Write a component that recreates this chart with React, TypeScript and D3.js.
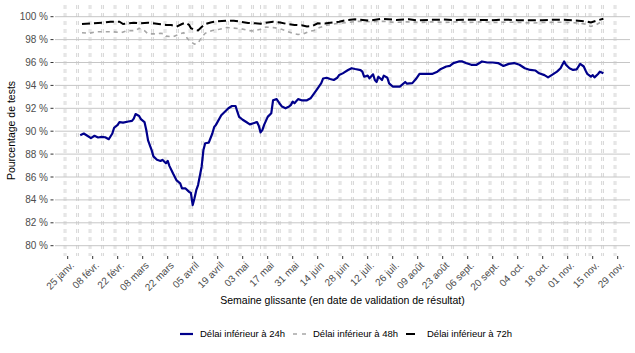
import * as d3 from "d3";

// --- data (rolling week, 2021) ---
const tickDates = ["01-25", "02-08", "02-22", "03-08", "03-22", "04-05", "04-19", "05-03", "05-17", "05-31", "06-14", "06-28", "07-12", "07-26", "08-09", "08-23", "09-06", "09-20", "10-04", "10-18", "11-01", "11-15", "11-29"];
const tickLabels = ["25 janv.", "08 févr.", "22 févr.", "08 mars", "22 mars", "05 avril", "19 avril", "03 mai", "17 mai", "31 mai", "14 juin", "28 juin", "12 juil.", "26 juil.", "09 août", "23 août", "06 sept.", "20 sept.", "04 oct.", "18 oct.", "01 nov.", "15 nov.", "29 nov."];
const yTicks = [80, 82, 84, 86, 88, 90, 92, 94, 96, 98, 100];
const holidays = ["04-05", "05-13", "05-24", "07-14", "11-01", "11-11"];

const dates24 = ["02-01", "02-03", "02-05", "02-07", "02-09", "02-11", "02-13", "02-15", "02-17", "02-19", "02-20", "02-22", "02-23", "02-25", "02-28", "03-02", "03-03", "03-04", "03-06", "03-07", "03-09", "03-10", "03-11", "03-13", "03-14", "03-16", "03-18", "03-19", "03-21", "03-22", "03-23", "03-25", "03-27", "03-29", "03-30", "04-01", "04-03", "04-04", "04-05", "04-06", "04-07", "04-08", "04-10", "04-11", "04-12", "04-14", "04-16", "04-17", "04-18", "04-21", "04-23", "04-25", "04-27", "04-29", "04-30", "05-01", "05-03", "05-05", "05-07", "05-09", "05-11", "05-12", "05-13", "05-14", "05-15", "05-17", "05-19", "05-20", "05-22", "05-24", "05-25", "05-27", "05-29", "05-30", "05-31", "06-01", "06-03", "06-05", "06-08", "06-10", "06-12", "06-14", "06-16", "06-17", "06-19", "06-21", "06-23", "06-25", "06-26", "06-28", "07-01", "07-03", "07-05", "07-08", "07-09", "07-10", "07-12", "07-13", "07-15", "07-16", "07-17", "07-18", "07-20", "07-21", "07-23", "07-24", "07-26", "07-28", "07-30", "08-02", "08-03", "08-06", "08-08", "08-10", "08-13", "08-17", "08-20", "08-22", "08-25", "08-27", "08-29", "09-01", "09-03", "09-05", "09-08", "09-11", "09-14", "09-17", "09-20", "09-23", "09-26", "09-29", "10-02", "10-05", "10-08", "10-11", "10-14", "10-16", "10-19", "10-21", "10-23", "10-26", "10-28", "10-29", "10-30", "10-31", "11-02", "11-04", "11-06", "11-08", "11-10", "11-11", "11-12", "11-14", "11-15", "11-16", "11-18", "11-19", "11-21"];
const values24 = [89.65, 89.8, 89.6, 89.4, 89.6, 89.45, 89.5, 89.47, 89.3, 89.8, 90.3, 90.55, 90.8, 90.75, 90.85, 90.9, 91.1, 91.5, 91.33, 91.05, 90.8, 90.1, 89.2, 88.35, 87.8, 87.5, 87.4, 87.5, 87.2, 87.4, 86.95, 86.3, 85.7, 85.45, 85.0, 85.0, 84.7, 84.6, 83.55, 84.15, 84.85, 85.3, 86.9, 88.35, 88.95, 89.0, 89.8, 90.35, 90.55, 91.4, 91.7, 92.0, 92.2, 92.2, 91.7, 91.25, 91.0, 90.8, 90.6, 90.7, 90.8, 90.48, 89.9, 90.1, 90.55, 91.25, 91.56, 92.7, 92.8, 92.35, 92.15, 92.0, 92.15, 92.3, 92.58, 92.44, 92.8, 92.7, 92.7, 92.87, 93.3, 93.75, 94.2, 94.6, 94.67, 94.56, 94.47, 94.67, 94.9, 95.05, 95.34, 95.5, 95.43, 95.34, 95.2, 94.76, 94.85, 94.62, 94.97, 94.47, 94.3, 94.76, 94.47, 94.85, 94.67, 94.18, 93.9, 93.9, 93.9, 94.3, 94.15, 94.2, 94.55, 95.0, 95.0, 95.0, 95.2, 95.44, 95.65, 95.7, 95.95, 96.09, 96.09, 95.95, 95.8, 95.8, 96.09, 96.0, 96.0, 95.95, 95.7, 95.88, 95.95, 95.8, 95.5, 95.35, 95.3, 95.06, 94.9, 94.7, 94.9, 95.2, 95.5, 95.8, 96.09, 95.8, 95.5, 95.35, 95.4, 95.88, 95.65, 95.3, 95.0, 94.76, 94.9, 94.7, 95.0, 95.2, 95.06];

const dates48 = ["02-02", "02-06", "02-10", "02-15", "02-19", "02-24", "02-27", "03-04", "03-06", "03-09", "03-11", "03-15", "03-18", "03-20", "03-21", "03-25", "03-29", "03-31", "04-02", "04-04", "04-06", "04-08", "04-10", "04-12", "04-16", "04-20", "04-24", "04-28", "05-02", "05-06", "05-09", "05-13", "05-16", "05-20", "05-24", "05-28", "05-31", "06-03", "06-06", "06-09", "06-12", "06-15", "06-19", "06-23", "06-27", "07-01", "07-07", "07-14", "07-21", "07-27", "08-03", "08-10", "08-17", "08-24", "08-31", "09-07", "09-14", "09-21", "09-28", "10-05", "10-12", "10-19", "10-26", "11-02", "11-07", "11-11", "11-14", "11-17", "11-21"];
const values48 = [98.6, 98.55, 98.69, 98.69, 98.69, 98.6, 98.78, 98.78, 98.99, 98.78, 98.5, 98.5, 98.55, 98.5, 98.3, 98.25, 98.5, 98.6, 98.1, 97.8, 97.6, 97.7, 98.2, 98.55, 98.8, 98.9, 99.05, 99.0, 98.95, 98.8, 98.75, 98.9, 99.1, 99.05, 98.95, 98.7, 98.55, 98.45, 98.5, 98.7, 98.8, 99.05, 99.25, 99.36, 99.45, 99.5, 99.6, 99.56, 99.6, 99.5, 99.55, 99.5, 99.55, 99.5, 99.55, 99.5, 99.55, 99.5, 99.52, 99.5, 99.45, 99.5, 99.52, 99.5, 99.45, 99.35, 99.15, 99.3, 99.65];

const dates72 = ["02-02", "02-08", "02-14", "02-18", "02-23", "02-25", "03-03", "03-07", "03-11", "03-17", "03-21", "03-24", "03-27", "03-30", "04-01", "04-03", "04-04", "04-06", "04-08", "04-10", "04-12", "04-15", "04-19", "04-24", "04-28", "05-02", "05-06", "05-10", "05-13", "05-16", "05-20", "05-24", "05-28", "06-01", "06-05", "06-08", "06-11", "06-14", "06-18", "06-21", "06-26", "06-30", "07-05", "07-13", "07-20", "07-28", "08-04", "08-09", "08-16", "08-23", "08-30", "09-06", "09-13", "09-20", "09-27", "10-04", "10-11", "10-18", "10-25", "11-01", "11-07", "11-11", "11-14", "11-17", "11-21"];
const values72 = [99.36, 99.42, 99.48, 99.56, 99.56, 99.36, 99.48, 99.42, 99.48, 99.36, 99.28, 99.28, 99.13, 99.36, 99.48, 99.28, 99.0, 98.85, 98.8, 99.1, 99.35, 99.5, 99.6, 99.65, 99.65, 99.56, 99.45, 99.42, 99.38, 99.48, 99.56, 99.5, 99.36, 99.28, 99.25, 99.15, 99.19, 99.42, 99.4, 99.48, 99.56, 99.7, 99.77, 99.65, 99.82, 99.72, 99.77, 99.68, 99.72, 99.75, 99.7, 99.74, 99.72, 99.7, 99.74, 99.7, 99.68, 99.7, 99.74, 99.72, 99.65, 99.6, 99.5, 99.65, 99.82];

const legendLabels = ["Délai inférieur à 24h", "Délai inférieur à 48h", "Délai inférieur à 72h"];

const parse = (s: string) => new Date(Date.UTC(2021, +s.slice(0, 2) - 1, +s.slice(3)));

const W = 635;
const H = 353;
const panel = { left: 55, right: 630, top: 5, bottom: 256 };
const font = "'Liberation Sans', Arial, Helvetica, sans-serif";

type Pt = { date: Date; v: number };

export default function App() {
  const x = d3.scaleUtc().domain([parse(tickDates[0]), parse(tickDates[tickDates.length - 1])]).range([67.7, 617.7]);
  const y = d3.scaleLinear().domain([80, 100]).range([245.7, 16.7]);

  // weekends + public holidays get a dashed marker
  const weekends = d3.utcDay
    .range(parse("01-23"), parse("11-29"))
    .filter((d) => d.getUTCDay() === 0 || d.getUTCDay() === 6);
  const vlines = [...weekends, ...holidays.map(parse)];

  const line = d3
    .line<Pt>()
    .x((d) => x(d.date))
    .y((d) => y(d.v));

  const mk = (ds: string[], vs: number[]): Pt[] => ds.map((d, i) => ({ date: parse(d), v: vs[i] }));
  const s24 = mk(dates24, values24);
  const s48 = mk(dates48, values48);
  const s72 = mk(dates72, values72);

  const axisCol = "#4d4d4d";

  return (
    <svg width={W} height={H} style={{ position: "absolute", left: 0, top: 0, background: "#fff" }} fontFamily={font}>
      {vlines.map((d, i) => (
        <line key={"v" + i} x1={x(d)} x2={x(d)} y1={panel.top} y2={panel.bottom} stroke="#d6d6d6" strokeWidth={1} strokeDasharray="4,4" />
      ))}
      {yTicks.map((t) => (
        <g key={"y" + t}>
          <line x1={panel.left} x2={panel.right} y1={y(t)} y2={y(t)} stroke="#c6c6c6" strokeWidth={1} />
          <line x1={50.5} x2={53.5} y1={y(t)} y2={y(t)} stroke="#333" strokeWidth={1} />
          <text x={48} y={y(t)} dy="0.35em" textAnchor="end" fontSize={10} fill={axisCol}>
            {t} %
          </text>
        </g>
      ))}
      {tickDates.map((d, i) => {
        const tx = x(parse(d));
        return (
          <g key={"x" + i}>
            <line x1={tx} x2={tx} y1={panel.bottom} y2={panel.bottom + 3} stroke="#333" strokeWidth={1} />
            <text transform={`translate(${tx + 2},${panel.bottom + 5}) rotate(-45)`} dy="0.7em" textAnchor="end" fontSize={10} fill={axisCol}>
              {tickLabels[i]}
            </text>
          </g>
        );
      })}
      <path d={line(s24) ?? ""} fill="none" stroke="#00008b" strokeWidth={2.2} strokeLinejoin="round" />
      <path d={line(s48) ?? ""} fill="none" stroke="#a6a6a6" strokeWidth={1.6} strokeDasharray="4,4" />
      <path d={line(s72) ?? ""} fill="none" stroke="#000" strokeWidth={2} strokeDasharray="8,4" />

      <text x={(panel.left + panel.right) / 2} y={304} textAnchor="middle" fontSize={10.5} fill="#000">
        Semaine glissante (en date de validation de résultat)
      </text>
      <text transform={`translate(15,${(panel.top + panel.bottom) / 2}) rotate(-90)`} textAnchor="middle" fontSize={10.5} fill="#000">
        Pourcentage de tests
      </text>

      <g fontSize={9.5} fill="#000">
        <line x1={180} x2={193} y1={334} y2={334} stroke="#00008b" strokeWidth={2.2} />
        <text x={200} y={334} dy="0.35em">{legendLabels[0]}</text>
        <line x1={293} x2={307} y1={334} y2={334} stroke="#a6a6a6" strokeWidth={1.6} strokeDasharray="4,5" />
        <text x={313} y={334} dy="0.35em">{legendLabels[1]}</text>
        <line x1={406} x2={415} y1={334} y2={334} stroke="#000" strokeWidth={2} />
        <text x={427} y={334} dy="0.35em">{legendLabels[2]}</text>
      </g>
    </svg>
  );
}
